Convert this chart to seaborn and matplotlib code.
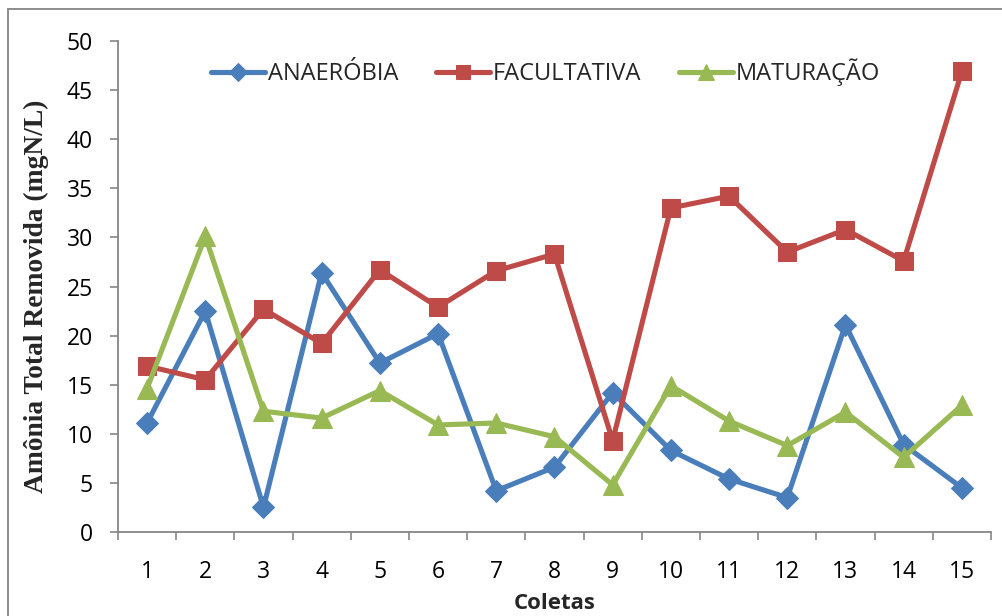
import matplotlib
matplotlib.use("Agg")
import matplotlib.pyplot as plt
import seaborn as sns
import pandas as pd
from matplotlib.patches import Rectangle

coletas = list(range(1, 16))
anaerobia = [11.1, 22.5, 2.5, 26.4, 17.2, 20.2, 4.2, 6.6, 14.2, 8.3, 5.4, 3.5, 21.1, 8.9, 4.5]
facultativa = [16.9, 15.5, 22.7, 19.2, 26.7, 22.9, 26.6, 28.3, 9.3, 33.0, 34.2, 28.5, 30.8, 27.6, 46.9]
maturacao = [14.6, 30.1, 12.3, 11.6, 14.4, 10.9, 11.1, 9.7, 4.8, 14.9, 11.3, 8.8, 12.2, 7.6, 12.9]
series_names = ["ANAERÓBIA", "FACULTATIVA", "MATURAÇÃO"]

df = pd.DataFrame({
    "Coleta": coletas * 3,
    "Valor": anaerobia + facultativa + maturacao,
    "Lagoa": sum([[n] * len(coletas) for n in series_names], []),
})

sns.set_theme(style="white")
plt.rcParams["font.family"] = ["Open Sans", "DejaVu Sans"]

palette = {"ANAERÓBIA": "#4A7EBB", "FACULTATIVA": "#BE4B48", "MATURAÇÃO": "#98B954"}
markers = {"ANAERÓBIA": "D", "FACULTATIVA": "s", "MATURAÇÃO": "^"}
msizes = {"ANAERÓBIA": 11, "FACULTATIVA": 13, "MATURAÇÃO": 14}

fig = plt.figure(figsize=(10.03, 6.16), dpi=100)
ax = fig.add_axes([0.1176, 0.1364, 0.8704, 0.797])

for name in series_names:
    sub = df[df["Lagoa"] == name]
    sns.lineplot(data=sub, x="Coleta", y="Valor", ax=ax, color=palette[name],
                 marker=markers[name], markersize=msizes[name], linewidth=3.7,
                 markeredgecolor=palette[name], label=name)

ax.set_xlim(0.5, 15.5)
ax.set_ylim(0, 50)
ax.set_yticks(range(0, 51, 5))
ax.set_xticks(coletas)
ax.set_xticks([c + 0.5 for c in [0] + coletas], minor=True)
ax.tick_params(axis="x", which="major", length=0, pad=20, labelsize=16.5, labelcolor="black")
ax.tick_params(axis="x", which="minor", length=6, width=1.2, color="#868686", direction="out", bottom=True)
ax.tick_params(axis="y", which="major", length=6, width=1.2, color="#868686", direction="out",
               left=True, pad=12, labelsize=16.5, labelcolor="black")

for side in ["top", "right"]:
    ax.spines[side].set_visible(False)
for side in ["left", "bottom"]:
    ax.spines[side].set_color("#868686")
    ax.spines[side].set_linewidth(1.3)

ax.set_ylabel("Amônia Total Removida (mgN/L)", family=["Liberation Serif"], fontweight="bold",
              fontsize=19.8)
ax.yaxis.set_label_coords(-0.079, 0.48)
ax.set_xlabel("Coletas", fontweight="bold", fontsize=16, labelpad=7)

leg = ax.legend(loc="upper center", bbox_to_anchor=(0.4897, 1.008), ncol=3, frameon=False,
                fontsize=17, handlelength=2.3, handletextpad=0.1, columnspacing=1.6,
                markerscale=0.8)

# outer chart frame
fig.patches.append(Rectangle((8 / 1003, -0.05), 1.1, 1 - 9 / 616 + 0.05, transform=fig.transFigure,
                             fill=False, edgecolor="#868686", linewidth=1.3))

fig.savefig("out.png", dpi=100)
